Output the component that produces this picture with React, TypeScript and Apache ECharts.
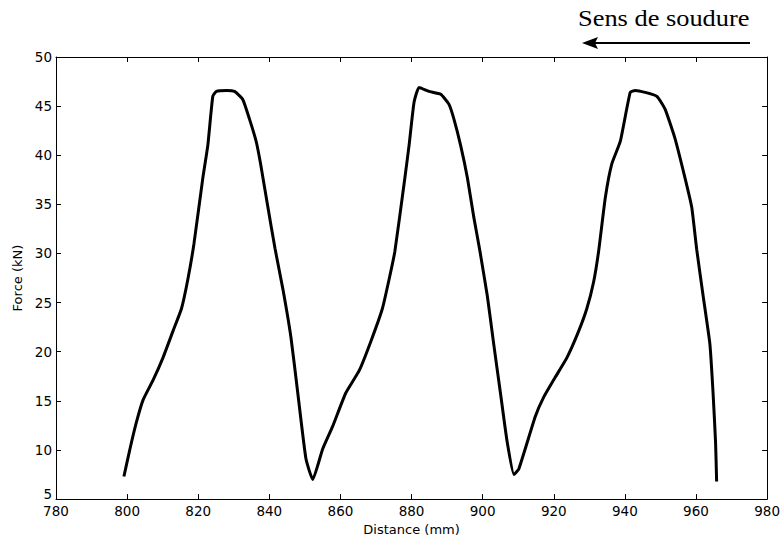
import React, { useEffect, useRef } from "react";
import * as echarts from "echarts";

const distance = [
  799.1, 800.8, 802.6, 804.5, 807.3, 810.1, 812.9, 815.3, 817.1, 818.8, 821.3, 822.7, 824.1, 825.1, 828.0,
  830.2, 832.5, 834.4, 836.3, 837.5, 839.6, 841.6, 843.8, 846.1, 848.0, 850.3, 852.2, 855.0, 857.8, 861.5,
  865.3, 868.6, 871.8, 873.7, 875.3, 877.9, 879.3, 880.7, 882.1, 884.9, 888.2, 890.5, 891.9, 893.8, 895.7,
  897.5, 899.2, 901.3, 903.1, 905.0, 906.9, 908.8, 910.2, 914.8, 917.2, 920.4, 923.7, 927.0, 929.3, 931.2,
  932.6, 934.5, 936.3, 938.7, 941.5, 942.9, 945.7, 949.0, 951.3, 954.1, 956.9, 958.8, 960.2, 962.0, 963.9,
  964.8, 965.5, 965.8,
];
const force = [
  7.3, 10.1, 12.8, 15.1, 17.1, 19.4, 22.1, 24.4, 27.4, 31.0, 37.7, 41.0, 46.0, 46.5, 46.6,
  46.5, 45.7, 43.7, 41.4, 39.2, 34.7, 30.5, 26.4, 21.4, 15.8, 9.1, 7.0, 10.1, 12.4, 15.8,
  18.1, 21.1, 24.4, 27.4, 30.2, 37.1, 41.0, 45.4, 46.9, 46.5, 46.2, 45.2, 43.7, 41.0, 37.7,
  33.7, 30.3, 25.7, 20.8, 15.8, 10.8, 7.5, 8.1, 13.4, 15.4, 17.4, 19.4, 22.1, 24.4, 27.1,
  30.2, 35.7, 39.1, 41.4, 46.4, 46.6, 46.4, 46.0, 44.7, 41.7, 37.7, 34.7, 30.4, 25.7, 20.8,
  15.8, 10.8, 6.8,
];
const xTicks = { min: 780, max: 980, interval: 20 };
const yTicks = { min: 5, max: 50, interval: 5 };
const xLabel = "Distance (mm)";
const yLabel = "Force (kN)";
const annotation = "Sens de soudure";

export default function App() {
  const ref = useRef<HTMLDivElement>(null);
  useEffect(() => {
    if (!ref.current) return;
    const chart = echarts.init(ref.current, null, { renderer: "svg" });
    const data = distance.map((d, i) => [d, force[i]]);
    const axisLine = { show: true, lineStyle: { color: "#000", width: 1 } };
    const axisTick = { show: true, inside: true, length: 5, lineStyle: { color: "#000" } };
    const labelStyle = { color: "#000", fontFamily: "DejaVu Sans", fontSize: 13.5 };
    chart.setOption({
      animation: false,
      backgroundColor: "#fff",
      grid: { left: 56, top: 57, right: 14, bottom: 33, containLabel: false },
      xAxis: [
        {
          type: "value",
          ...xTicks,
          position: "bottom",
          axisLine,
          axisTick,
          splitLine: { show: false },
          axisLabel: { ...labelStyle, margin: 5 },
          name: xLabel,
          nameLocation: "middle",
          nameGap: 17,
          nameTextStyle: { color: "#000", fontFamily: "DejaVu Sans", fontSize: 13 },
        },
        {
          type: "value",
          ...xTicks,
          position: "top",
          axisLine,
          axisTick,
          splitLine: { show: false },
          axisLabel: { show: false },
        },
      ],
      yAxis: [
        {
          type: "value",
          ...yTicks,
          position: "left",
          axisLine,
          axisTick,
          splitLine: { show: false },
          axisLabel: {
            ...labelStyle,
            margin: 4,
            formatter: (v: number) => (v === yTicks.min ? "{low|" + v + "}" : String(v)),
            rich: {
              low: { ...labelStyle, padding: [0, 0, 10, 0] },
            },
          },
          name: yLabel,
          nameLocation: "middle",
          nameGap: 30,
          nameRotate: 90,
          nameTextStyle: { color: "#000", fontFamily: "DejaVu Sans", fontSize: 13 },
        },
        {
          type: "value",
          ...yTicks,
          position: "right",
          axisLine,
          axisTick,
          splitLine: { show: false },
          axisLabel: { show: false },
        },
      ],
      series: [
        {
          type: "line",
          data,
          showSymbol: false,
          smooth: 0.15,
          lineStyle: { color: "#000", width: 3 },
          xAxisIndex: 0,
          yAxisIndex: 0,
        },
      ],
      graphic: [
        {
          type: "text",
          left: 578,
          top: 6,
          scaleX: 1.1,
          style: {
            text: annotation,
            fill: "#000",
            font: "24px 'Liberation Serif', serif",
          },
        },
        {
          type: "line",
          shape: { x1: 594, y1: 43, x2: 750, y2: 43 },
          style: { stroke: "#000", lineWidth: 2 },
        },
        {
          type: "polygon",
          shape: { points: [[582, 43], [598, 37], [595, 43], [598, 49]] },
          style: { fill: "#000" },
        },
      ],
    });
    return () => chart.dispose();
  }, []);
  return <div ref={ref} style={{ width: 783, height: 541, position: "absolute", left: 0, top: 0 }} />;
}
